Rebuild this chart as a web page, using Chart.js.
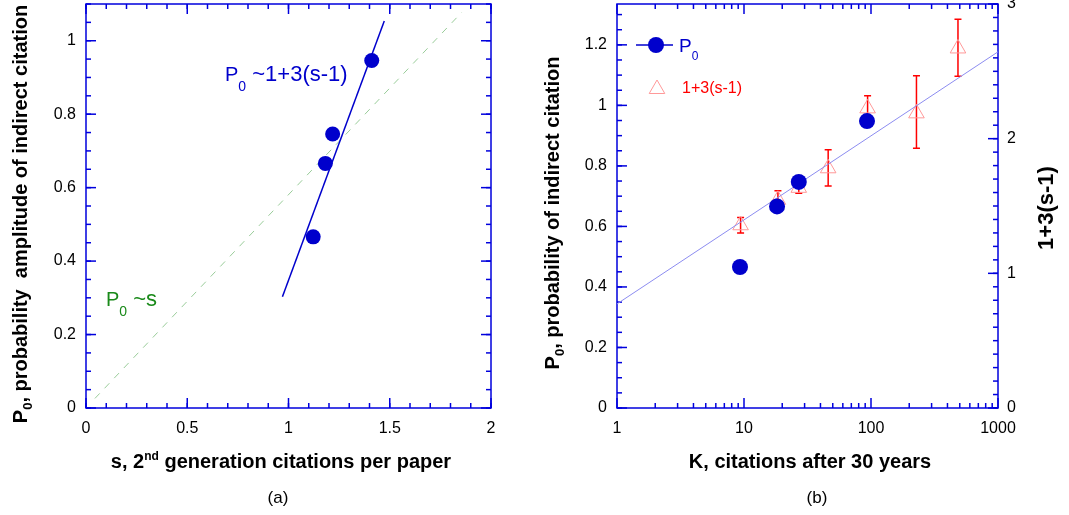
<!DOCTYPE html>
<html>
<head>
<meta charset="utf-8">
<script src="https://cdn.jsdelivr.net/npm/chart.js@4.4.0/dist/chart.umd.min.js"></script>
<style>
    body { margin: 0; background: #fff; width: 1069px; height: 515px; overflow: hidden; position: relative; }
    canvas { position: absolute; top: 0; }
    #chartA { left: 0; }
    #chartB { left: 540px; }
</style>
</head>
<body>
<canvas id="chartA" width="540" height="515"></canvas>
<canvas id="chartB" width="529" height="515"></canvas>
<script>
// panel (a): P0 against s
var sA = [1.122, 1.182, 1.218, 1.411];
var pA = [0.466, 0.666, 0.746, 0.946];
var fitSA = [0.97, 1.473];
var fitPA = [0.303, 1.054];
var propS = [0.044, 1.855];
var propP = [0.026, 1.077];
var xTicksA = [0, 0.5, 1, 1.5, 2];
var yTicksA = [0, 0.2, 0.4, 0.6, 0.8, 1];

// panel (b): P0 and 1+3(s-1) against K
var kP = [9.3, 18.2, 27, 93];
var p0 = [0.466, 0.666, 0.747, 0.948];
var kT = [9.4, 18.5, 27, 46, 94, 228, 484];
var tri = [1.357, 1.546, 1.635, 1.78, 2.225, 2.188, 2.67];
var triHi = [1.414, 1.614, 1.68, 1.918, 2.319, 2.468, 2.886];
var triLo = [1.300, 1.48, 1.594, 1.648, 2.13, 1.928, 2.463];
var kFit = [1, 1000];
var pFit = [0.344, 1.177];
var xTicksB = [1, 10, 100, 1000];
var yTicksB = [0, 0.2, 0.4, 0.6, 0.8, 1, 1.2];
var y2TicksB = [0, 1, 2, 3];

var F = 'Liberation Sans, Arial, sans-serif';
var AXIS = '#0000dd';
var BLUE = '#0000cc';

function range(a, b, step) {
    var out = [];
    for (var v = a; v <= b + 1e-9; v += step) out.push(+v.toFixed(4));
    return out;
}
function logMinor(a, b) {
    var out = [];
    for (var d = a; d < b; d *= 10) {
        for (var m = 2; m <= 9; m++) out.push(d * m);
    }
    return out;
}
function pts(xs, ys) {
    return xs.map(function (x, i) { return { x: x, y: ys[i] }; });
}
// giữ khung vẽ đúng chỗ: bỏ phần đệm tự động của trục
function fixW(w) {
    return function (s) { s.width = w; s.paddingTop = 0; s.paddingBottom = 0; s.paddingLeft = 0; s.paddingRight = 0; };
}
function fixH(h) {
    return function (s) { s.height = h; s.paddingTop = 0; s.paddingBottom = 0; s.paddingLeft = 0; s.paddingRight = 0; };
}

// rich text: parts with sub/superscripts, optional rotation
function drawRich(ctx, item) {
    ctx.save();
    ctx.translate(item.x, item.y);
    if (item.rot) ctx.rotate(item.rot);
    var w = 0;
    item.parts.forEach(function (p) { ctx.font = p.font; w += ctx.measureText(p.t).width; });
    var x = item.align === 'center' ? -w / 2 : 0;
    ctx.textBaseline = 'alphabetic';
    item.parts.forEach(function (p) {
        ctx.font = p.font;
        ctx.fillStyle = p.color || item.color || '#000';
        ctx.fillText(p.t, x, p.dy || 0);
        x += ctx.measureText(p.t).width;
    });
    ctx.restore();
}

//khung + vạch chia hướng vào trong
var framePlugin = {
    id: 'frame',
    beforeDatasetsDraw: function (chart, args, opts) {
        var ctx = chart.ctx, a = chart.chartArea;
        ctx.save();
        ctx.strokeStyle = AXIS;
        ctx.lineWidth = 1.5;
        ctx.strokeRect(a.left, a.top, a.right - a.left, a.bottom - a.top);
        opts.marks.forEach(function (m) {
            var sc = chart.scales[m.scale];
            var draw = function (v, len) {
                var p = sc.getPixelForValue(v);
                m.sides.forEach(function (side) {
                    ctx.beginPath();
                    if (side === 'bottom') { ctx.moveTo(p, a.bottom); ctx.lineTo(p, a.bottom - len); }
                    if (side === 'top') { ctx.moveTo(p, a.top); ctx.lineTo(p, a.top + len); }
                    if (side === 'left') { ctx.moveTo(a.left, p); ctx.lineTo(a.left + len, p); }
                    if (side === 'right') { ctx.moveTo(a.right, p); ctx.lineTo(a.right - len, p); }
                    ctx.stroke();
                });
            };
            m.minor.forEach(function (v) { draw(v, 5); });
            m.major.forEach(function (v) { draw(v, 10); });
        });
        ctx.restore();
    }
};

var textPlugin = {
    id: 'texts',
    afterDraw: function (chart, args, opts) {
        opts.items.forEach(function (it) { drawRich(chart.ctx, it); });
    }
};

var errorBarPlugin = {
    id: 'errbars',
    beforeDatasetsDraw: function (chart, args, opts) {
        if (!opts.on) return;
        var ctx = chart.ctx, sx = chart.scales.x, sy = chart.scales.y2;
        ctx.save();
        ctx.strokeStyle = '#ff0000';
        ctx.lineWidth = 1.5;
        kT.forEach(function (k, i) {
            var x = sx.getPixelForValue(k);
            var yh = sy.getPixelForValue(triHi[i]);
            var yl = sy.getPixelForValue(triLo[i]);
            ctx.beginPath();
            ctx.moveTo(x, yh); ctx.lineTo(x, yl);
            ctx.moveTo(x - 3.5, yh); ctx.lineTo(x + 3.5, yh);
            ctx.moveTo(x - 3.5, yl); ctx.lineTo(x + 3.5, yl);
            ctx.stroke();
        });
        ctx.restore();
    }
};

var legendPlugin = {
    id: 'boxlegend',
    afterDraw: function (chart, args, opts) {
        if (!opts.on) return;
        var ctx = chart.ctx, a = chart.chartArea;
        var x0 = a.left, y0 = a.top;
        ctx.save();
        // P0 entry
        ctx.strokeStyle = BLUE; ctx.lineWidth = 1.5;
        ctx.beginPath(); ctx.moveTo(x0 + 19, y0 + 41); ctx.lineTo(x0 + 56, y0 + 41); ctx.stroke();
        ctx.fillStyle = BLUE;
        ctx.beginPath(); ctx.arc(x0 + 39, y0 + 41, 8, 0, Math.PI * 2); ctx.fill();
        // 1+3(s-1) entry
        var tx = x0 + 40, ty = y0 + 85, r = 9;
        ctx.strokeStyle = '#ff9999'; ctx.lineWidth = 1;
        ctx.beginPath();
        ctx.moveTo(tx, ty - r);
        ctx.lineTo(tx + r * Math.sin(Math.PI / 3), ty + r / 2);
        ctx.lineTo(tx - r * Math.sin(Math.PI / 3), ty + r / 2);
        ctx.closePath(); ctx.stroke();
        ctx.restore();
        drawRich(ctx, { x: x0 + 62, y: y0 + 48, color: BLUE, parts: [
            { t: 'P', font: '19px ' + F }, { t: '0', font: '12px ' + F, dy: 8 }] });
        drawRich(ctx, { x: x0 + 65, y: y0 + 89, color: '#ff0000', parts: [
            { t: '1+3(s-1)', font: '16px ' + F }] });
    }
};

var tickFont = { family: F, size: 16 };

//biểu đồ (a)
new Chart(document.getElementById('chartA'), {
    type: 'scatter',
    data: {
        datasets: [
            { data: pts(sA, pA), pointRadius: 7.5, pointHoverRadius: 7.5, backgroundColor: BLUE, borderColor: BLUE, borderWidth: 0, order: 0 },
            { data: pts(fitSA, fitPA), showLine: true, pointRadius: 0, borderColor: BLUE, borderWidth: 1.5, order: 1 },
            { data: pts(propS, propP), showLine: true, pointRadius: 0, borderColor: '#99cc99', borderWidth: 1, borderDash: [7, 7], order: 2 }
        ]
    },
    options: {
        responsive: false,
        animation: false,
        events: [],
        layout: { padding: { left: 0, top: 4, right: 49, bottom: 0 }, autoPadding: false },
        plugins: {
            legend: { display: false },
            tooltip: { enabled: false },
            frame: { marks: [
                { scale: 'x', major: xTicksA, minor: range(0, 2, 0.1), sides: ['bottom', 'top'] },
                { scale: 'y', major: yTicksA, minor: range(0, 1.1, 0.05), sides: ['left', 'right'] }
            ] },
            texts: { items: [
                { x: 281, y: 468, align: 'center', parts: [
                    { t: 's, 2', font: 'bold 20px ' + F }, { t: 'nd', font: 'bold 12px ' + F, dy: -8 },
                    { t: ' generation citations per paper', font: 'bold 20px ' + F }] },
                { x: 27, y: 214, rot: -Math.PI / 2, align: 'center', parts: [
                    { t: 'P', font: 'bold 20px ' + F }, { t: '0', font: 'bold 13px ' + F, dy: 5 },
                    { t: ', probability  amplitude of indirect citation', font: 'bold 20px ' + F }] },
                { x: 278, y: 503, align: 'center', parts: [{ t: '(a)', font: '17px ' + F }] },
                { x: 225, y: 81, color: BLUE, parts: [
                    { t: 'P', font: '20px ' + F }, { t: '0', font: '14px ' + F, dy: 10 },
                    { t: ' ~1+3(s-1)', font: '22px ' + F }] },
                { x: 106, y: 306, color: '#1a8a1a', parts: [
                    { t: 'P', font: '20px ' + F }, { t: '0', font: '14px ' + F, dy: 10 },
                    { t: ' ~s', font: '22px ' + F }] }
            ] }
        },
        scales: {
            x: {
                type: 'linear', min: 0, max: 2,
                grid: { display: false, drawTicks: false }, border: { display: false },
                afterBuildTicks: function (s) { s.ticks = xTicksA.map(function (v) { return { value: v }; }); },
                afterFit: fixH(107),
                ticks: { padding: 11, font: tickFont, color: '#000', maxRotation: 0, callback: function (v) { return String(v); } }
            },
            y: {
                type: 'linear', min: 0, max: 1.1,
                grid: { display: false, drawTicks: false }, border: { display: false },
                afterBuildTicks: function (s) { s.ticks = yTicksA.map(function (v) { return { value: v }; }); },
                afterFit: fixW(86),
                ticks: { padding: 10, font: tickFont, color: '#000', callback: function (v) { return String(v); } }
            }
        }
    },
    plugins: [framePlugin, textPlugin]
});

//biểu đồ (b)
new Chart(document.getElementById('chartB'), {
    type: 'scatter',
    data: {
        datasets: [
            { data: pts(kP, p0), yAxisID: 'y', pointRadius: 8, pointHoverRadius: 8, backgroundColor: BLUE, borderColor: BLUE, borderWidth: 0, order: 0 },
            { data: pts(kFit, pFit), yAxisID: 'y', showLine: true, pointRadius: 0, borderColor: '#8c8cf0', borderWidth: 1, order: 1 },
            { data: pts(kT, tri), yAxisID: 'y2', pointStyle: 'triangle', pointRadius: 9, pointHoverRadius: 9, backgroundColor: 'rgba(255,255,255,0)', borderColor: '#ff9999', borderWidth: 1, order: 2 }
        ]
    },
    options: {
        responsive: false,
        animation: false,
        events: [],
        layout: { padding: { left: 0, top: 4, right: 0, bottom: 0 }, autoPadding: false },
        plugins: {
            legend: { display: false },
            tooltip: { enabled: false },
            errbars: { on: true },
            boxlegend: { on: true },
            frame: { marks: [
                { scale: 'x', major: xTicksB, minor: logMinor(1, 1000), sides: ['bottom', 'top'] },
                { scale: 'y', major: yTicksB, minor: range(0, 1.3, 0.05), sides: ['left'] },
                { scale: 'y2', major: y2TicksB, minor: range(0, 3, 0.1), sides: ['right'] }
            ] },
            texts: { items: [
                { x: 270, y: 468, align: 'center', parts: [{ t: 'K, citations after 30 years', font: 'bold 20px ' + F }] },
                { x: 19, y: 213, rot: -Math.PI / 2, align: 'center', parts: [
                    { t: 'P', font: 'bold 20px ' + F }, { t: '0', font: 'bold 13px ' + F, dy: 5 },
                    { t: ', probability of indirect citation', font: 'bold 20px ' + F }] },
                { x: 513, y: 208, rot: -Math.PI / 2, align: 'center', parts: [{ t: '1+3(s-1)', font: 'bold 22px ' + F }] },
                { x: 277, y: 503, align: 'center', parts: [{ t: '(b)', font: '17px ' + F }] }
            ] }
        },
        scales: {
            x: {
                type: 'logarithmic', min: 1, max: 1000,
                grid: { display: false, drawTicks: false }, border: { display: false },
                afterBuildTicks: function (s) { s.ticks = xTicksB.map(function (v) { return { value: v }; }); },
                afterFit: fixH(107),
                ticks: { padding: 11, font: tickFont, color: '#000', maxRotation: 0, autoSkip: false, callback: function (v) { return String(v); } }
            },
            y: {
                type: 'linear', position: 'left', min: 0, max: 1.335,
                grid: { display: false, drawTicks: false }, border: { display: false },
                afterBuildTicks: function (s) { s.ticks = yTicksB.map(function (v) { return { value: v }; }); },
                afterFit: fixW(77),
                ticks: { padding: 10, font: tickFont, color: '#000', callback: function (v) { return String(v); } }
            },
            y2: {
                type: 'linear', position: 'right', min: 0, max: 3,
                grid: { display: false, drawTicks: false }, border: { display: false },
                afterBuildTicks: function (s) { s.ticks = y2TicksB.map(function (v) { return { value: v }; }); },
                afterFit: fixW(71),
                ticks: { padding: 9, font: tickFont, color: '#000', callback: function (v) { return String(v); } }
            }
        }
    },
    plugins: [framePlugin, textPlugin, errorBarPlugin, legendPlugin]
});
</script>
</body>
</html>
